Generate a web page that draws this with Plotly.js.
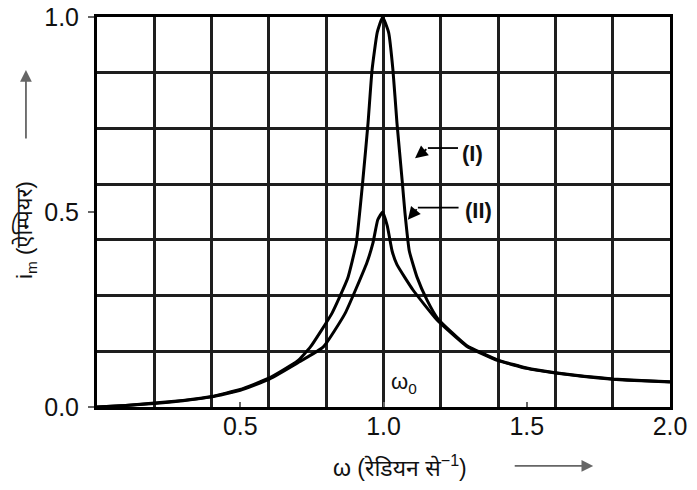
<!DOCTYPE html>
<html>
<head>
<meta charset="utf-8">
<script src="https://cdn.plot.ly/plotly-3.0.1.min.js"></script>
<style>html,body{margin:0;padding:0;background:#fff;}#chart{width:697px;height:490px;}</style>
</head>
<body>
<div id="chart"></div>
<script>
// Curve (I): low resistance, peak current 1.0 A at omega0
const omegaI = [0, 0.1, 0.2, 0.3, 0.4, 0.5, 0.6, 0.7, 0.745, 0.82, 0.875, 0.905, 0.928, 0.946, 0.96, 0.978, 0.997, 1.018, 1.033, 1.047, 1.065, 1.075, 1.09, 1.117, 1.152, 1.19, 1.29, 1.4, 1.5, 1.6, 1.7, 1.8, 1.9, 2.0];
const currentI = [0, 0.004, 0.01, 0.017, 0.027, 0.045, 0.074, 0.118, 0.154, 0.24, 0.33, 0.42, 0.582, 0.728, 0.864, 0.96, 1.0, 0.96, 0.864, 0.728, 0.582, 0.497, 0.40, 0.333, 0.274, 0.226, 0.158, 0.12, 0.1, 0.088, 0.079, 0.072, 0.068, 0.065];
// Curve (II): higher resistance, peak current 0.5 A at omega0
const omegaII = [0, 0.1, 0.2, 0.3, 0.4, 0.5, 0.6, 0.7, 0.79, 0.866, 0.942, 0.963, 0.98, 0.997, 1.013, 1.03, 1.047, 1.103, 1.187, 1.29, 1.4, 1.5, 1.6, 1.7, 1.8, 1.9, 2.0];
const currentII = [0, 0.004, 0.009, 0.016, 0.026, 0.043, 0.071, 0.113, 0.154, 0.24, 0.37, 0.42, 0.48, 0.5, 0.465, 0.40, 0.365, 0.30, 0.223, 0.156, 0.119, 0.099, 0.087, 0.078, 0.071, 0.067, 0.064];

const xTickVals = [0.5, 1.0, 1.5, 2.0];
const xTickText = ['0.5', '1.0', '1.5', '2.0'];
const yTickVals = [0, 0.5, 1.0];
const yTickText = ['0.0', '0.5', '1.0'];

const omega0 = 1.0;
const labelI = {text: '(I)', x: 1.312, y: 0.651, tipX: 1.11, tipY: 0.638, bendX: 1.155, bendY: 0.664, endX: 1.26};
const labelII = {text: '(II)', x: 1.33, y: 0.505, tipX: 1.085, tipY: 0.48, bendX: 1.12, bendY: 0.511, endX: 1.262};

const gridColor = '#1e1e1e';
const traces = [
  {x: omegaI, y: currentI, mode: 'lines', line: {color: '#000', width: 3, shape: 'spline', smoothing: 0.4}, hoverinfo: 'skip', showlegend: false},
  {x: omegaII, y: currentII, mode: 'lines', line: {color: '#000', width: 3, shape: 'spline', smoothing: 0.4}, hoverinfo: 'skip', showlegend: false}
];

const annotations = [];
const shapes = [];
[labelI, labelII].forEach(L => {
  annotations.push({x: L.x, y: L.y, xref: 'x', yref: 'y', text: '<b>' + L.text + '</b>', showarrow: false,
    font: {family: 'Liberation Sans, Arial, sans-serif', size: 22, color: '#111'}, bgcolor: '#fff'});
  annotations.push({x: L.tipX, y: L.tipY, xref: 'x', yref: 'y', ax: L.bendX, ay: L.bendY, axref: 'x', ayref: 'y',
    text: '', showarrow: true, arrowhead: 2, arrowsize: 1.4, arrowwidth: 1.8, arrowcolor: '#000'});
  shapes.push({type: 'line', xref: 'x', yref: 'y', x0: L.bendX, y0: L.bendY, x1: L.endX, y1: L.bendY, line: {color: '#000', width: 1.8}});
});
annotations.push({x: omega0 + 0.07, y: 0.062, xref: 'x', yref: 'y', text: 'ω<sub>0</sub>', showarrow: false,
  font: {family: 'Liberation Sans, Arial, sans-serif', size: 22, color: '#111'}, bgcolor: '#fff'});
// axis titles
annotations.push({x: -0.124, y: 0.454, xref: 'paper', yref: 'paper', xanchor: 'center', yanchor: 'middle',
  text: 'i<sub>m</sub> (ऐम्पियर)', textangle: -90, showarrow: false,
  font: {family: 'Liberation Sans, Noto Sans, sans-serif', size: 22, color: '#111'}});
annotations.push({x: -0.124, y: 0.864, xref: 'paper', yref: 'paper', text: '', showarrow: true, ax: 0, ay: 70,
  arrowhead: 2, arrowsize: 1.3, arrowwidth: 1.8, arrowcolor: '#666'});
annotations.push({x: 0.529, y: -0.151, xref: 'paper', yref: 'paper', xanchor: 'center', yanchor: 'middle',
  text: 'ω (रेडियन से<sup>−1</sup>)', showarrow: false,
  font: {family: 'Liberation Sans, Noto Sans, sans-serif', size: 23, color: '#111'}});
annotations.push({x: 0.866, y: -0.151, xref: 'paper', yref: 'paper', text: '', showarrow: true, ax: -80, ay: 0,
  arrowhead: 2, arrowsize: 1.3, arrowwidth: 1.8, arrowcolor: '#666'});

const tickFont = {family: 'Liberation Sans, Arial, sans-serif', size: 25, color: '#111'};
const layout = {
  width: 697, height: 490,
  margin: {l: 97, r: 27, t: 17, b: 83},
  paper_bgcolor: '#fff', plot_bgcolor: '#fff',
  showlegend: false,
  xaxis: {range: [0, 2], tickvals: xTickVals, ticktext: xTickText, showgrid: false, zeroline: false,
    showline: true, linecolor: '#000', linewidth: 3, mirror: true,
    ticks: 'inside', ticklen: 5, tickwidth: 2, tickcolor: '#666', tickfont: tickFont, ticklabelstandoff: -5,
    minor: {dtick: 0.2, tick0: 0, showgrid: true, gridcolor: gridColor, gridwidth: 3, ticks: ''}},
  yaxis: {range: [0, 1], tickvals: yTickVals, ticktext: yTickText, showgrid: false, zeroline: false,
    showline: true, linecolor: '#000', linewidth: 3, mirror: true,
    ticks: 'outside', ticklen: 6, tickwidth: 2, tickcolor: '#666', tickfont: tickFont, ticklabelstandoff: 4,
    minor: {dtick: 1 / 7, tick0: 0, showgrid: true, gridcolor: gridColor, gridwidth: 3, ticks: ''}},
  annotations: annotations,
  shapes: shapes
};
Plotly.newPlot('chart', traces, layout, {staticPlot: true, displayModeBar: false});
</script>
</body>
</html>
